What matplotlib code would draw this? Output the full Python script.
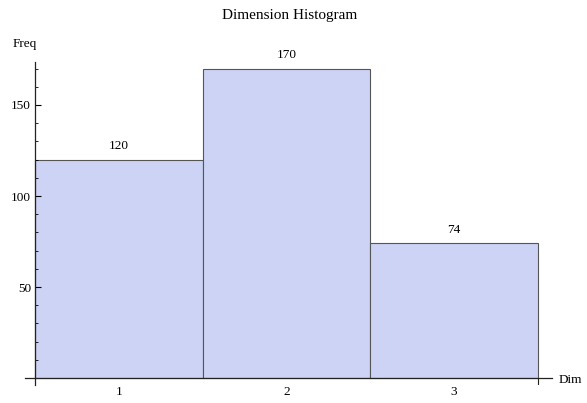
import matplotlib
matplotlib.use("Agg")
import matplotlib.pyplot as plt
from matplotlib.ticker import MultipleLocator

plt.rcParams["font.family"] = ["Liberation Serif", "DejaVu Serif"]

dims = [1, 2, 3]
freqs = [120, 170, 74]
title = "Dimension Histogram"

BAR_COLOR = "#CCD3F5"
EDGE_COLOR = "#555555"

fig = plt.figure(figsize=(5.87, 4.03), dpi=100)
ax = fig.add_axes([25 / 587, 18 / 403, 527 / 587, 323 / 403])

bars = ax.bar(dims, freqs, width=1.0, color=BAR_COLOR, edgecolor=EDGE_COLOR, linewidth=0.8)
for bar, val in zip(bars, freqs):
    ax.text(bar.get_x() + bar.get_width() / 2, val + 4, str(val),
            ha="center", va="bottom", fontsize=9.5)

ax.set_xlim(0.44, 3.586)
ax.set_ylim(-3.8, 173.6)

ax.spines["top"].set_visible(False)
ax.spines["right"].set_visible(False)
ax.spines["left"].set_position(("data", 0.5))
ax.spines["bottom"].set_position(("data", 0))
for side in ["left", "bottom"]:
    ax.spines[side].set_linewidth(0.9)
    ax.spines[side].set_color("#222222")

ax.yaxis.set_major_locator(MultipleLocator(50))
ax.yaxis.set_minor_locator(MultipleLocator(10))
ax.set_yticks([50, 100, 150])
ax.tick_params(axis="y", which="major", direction="in", length=4, width=0.8, labelsize=9.5, pad=3)
ax.tick_params(axis="y", which="minor", direction="in", length=2.2, width=0.6)

ax.set_xticks(dims)
ax.tick_params(axis="x", which="major", length=0, labelsize=9.5, pad=6)
ax.vlines(3.5, -3.8, 0, color="#222222", linewidth=0.8)

fig.text(290 / 587, 1 - 15 / 403, title, ha="center", va="center", fontsize=11)
fig.text(25 / 587, 1 - 44 / 403, "Freq", ha="center", va="center", fontsize=9.5)
fig.text(559 / 587, 1 - 380 / 403, "Dim", ha="left", va="center", fontsize=9.5)

fig.savefig("out.png", dpi=100)
